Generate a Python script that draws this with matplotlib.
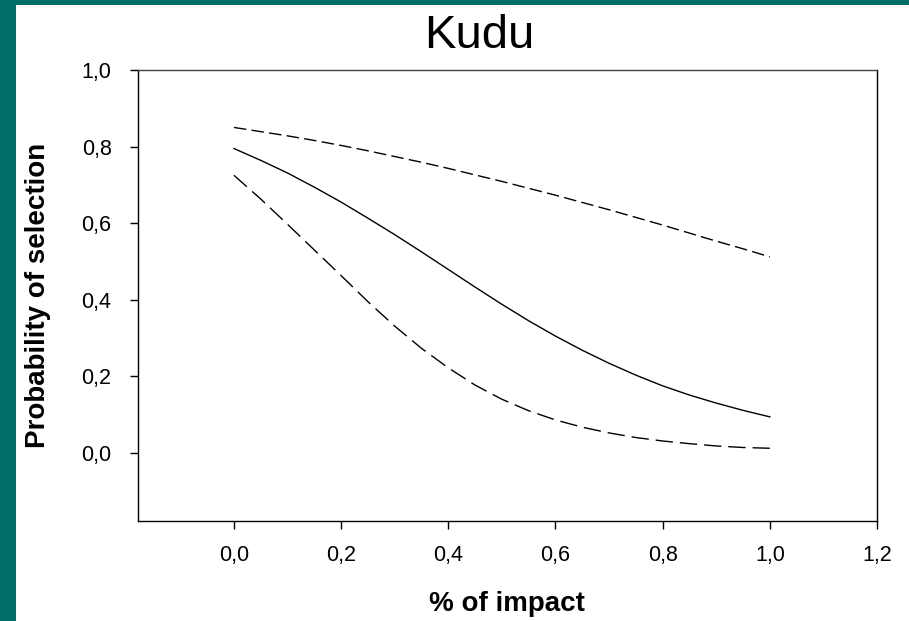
import matplotlib
matplotlib.use("Agg")
import matplotlib.pyplot as plt
from matplotlib.patches import Rectangle
from matplotlib.ticker import FuncFormatter

plt.rcParams['font.family'] = ['Liberation Sans', 'DejaVu Sans']
plt.rcParams['lines.scale_dashes'] = False

# Data
impact = [0.0, 0.05, 0.1, 0.15, 0.2, 0.25, 0.3, 0.35, 0.4, 0.45, 0.5,
          0.55, 0.6, 0.65, 0.7, 0.75, 0.8, 0.85, 0.9, 0.95, 1.0]
prob_fit = [0.795, 0.764, 0.731, 0.694, 0.655, 0.613, 0.570, 0.525, 0.479, 0.433, 0.388,
            0.345, 0.305, 0.268, 0.234, 0.203, 0.175, 0.151, 0.130, 0.111, 0.094]
prob_upper = [0.850, 0.839, 0.828, 0.816, 0.803, 0.789, 0.774, 0.759, 0.743, 0.726, 0.709,
              0.691, 0.673, 0.654, 0.635, 0.615, 0.595, 0.574, 0.553, 0.533, 0.512]
prob_lower = [0.725, 0.663, 0.597, 0.530, 0.463, 0.395, 0.331, 0.273, 0.222, 0.177, 0.140,
              0.110, 0.086, 0.067, 0.052, 0.040, 0.031, 0.024, 0.018, 0.014, 0.012]
x_ticks = [0.0, 0.2, 0.4, 0.6, 0.8, 1.0, 1.2]
y_ticks = [0.0, 0.2, 0.4, 0.6, 0.8, 1.0]

W, H = 909, 621
fig = plt.figure(figsize=(W / 100, H / 100), dpi=100)
fig.patch.set_facecolor('white')

teal = '#006E69'
fig.add_artist(Rectangle((0, 0), 16 / W, 1, transform=fig.transFigure,
                         facecolor=teal, edgecolor='none', zorder=0))
fig.add_artist(Rectangle((0, 1 - 5 / H), 1, 5 / H, transform=fig.transFigure,
                         facecolor=teal, edgecolor='none', zorder=0))

ax = fig.add_axes([138 / W, 1 - 521 / H, 739 / W, 451 / H])
ax.plot(impact, prob_fit, color='black', lw=1.0)
ax.plot(impact, prob_upper, color='black', lw=1.0, dashes=(9, 3.8))
ax.plot(impact, prob_lower, color='black', lw=1.0, dashes=(12.5, 5))

ax.set_xlim(-0.179, 1.2)
ax.set_ylim(-0.178, 1.0)
ax.set_xticks(x_ticks)
ax.set_yticks(y_ticks)
fmt = FuncFormatter(lambda v, p: f"{v:.1f}".replace('.', ','))
ax.xaxis.set_major_formatter(fmt)
ax.yaxis.set_major_formatter(fmt)
ax.tick_params(axis='both', direction='out', length=6, width=1, labelsize=15.5,
               colors='black')
ax.tick_params(axis='x', pad=11)
ax.tick_params(axis='y', pad=13)
for s in ax.spines.values():
    s.set_linewidth(1.0)
    s.set_color('black')
ax.spines['top'].set_color('#444444')

fig.text(479 / W, 1 - 48 / H, 'Kudu', fontsize=34, ha='center', va='baseline')
fig.text(507 / W, 1 - 611 / H, '% of impact', fontsize=20, fontweight='bold',
         ha='center', va='baseline')
fig.text(38 / W, 1 - 295 / H, 'Probability of selection', fontsize=20,
         fontweight='bold', rotation=90, ha='center', va='center')

fig.savefig('out.png', dpi=100, facecolor='white')
